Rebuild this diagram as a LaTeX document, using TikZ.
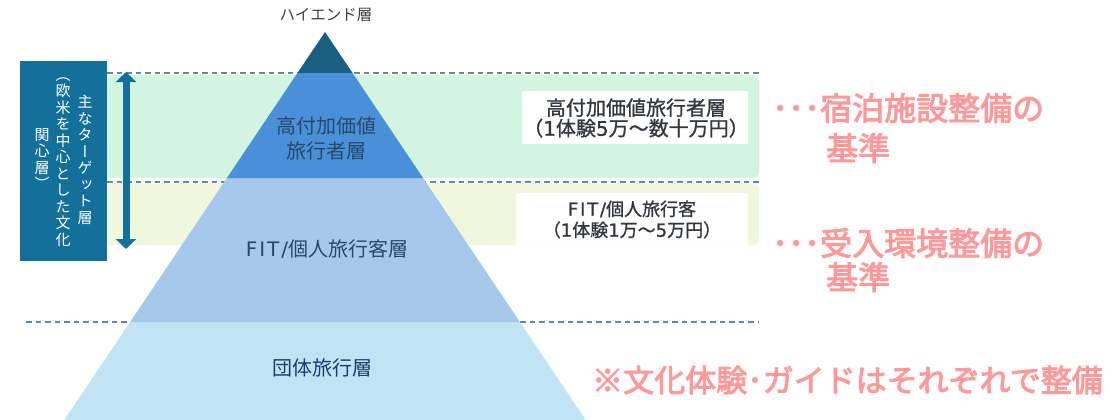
\documentclass[tikz,border=0pt]{standalone}
\usepackage{fontspec}
\setmainfont{Noto Sans CJK JP}
\newfontfamily\vjp[RawFeature=+vert]{Noto Sans CJK JP}
\newfontfamily\pinkf[FakeBold=3]{Noto Sans CJK JP}
\newfontfamily\boxf[FakeBold=1]{Noto Sans CJK JP}
\newfontfamily\latw[LetterSpace=10]{DejaVu Sans}
\newfontfamily\latwb[LetterSpace=10,FakeBold=1]{DejaVu Sans}
\newfontfamily\latb[FakeBold=1]{DejaVu Sans}
\usetikzlibrary{arrows.meta}
\definecolor{tierA}{HTML}{185F80}
\definecolor{tierB}{HTML}{4A90D8}
\definecolor{tierC}{HTML}{A6C9EB}
\definecolor{tierD}{HTML}{C1E4F5}
\definecolor{bandG}{HTML}{D3F4E1}
\definecolor{bandY}{HTML}{EFF7DC}
\definecolor{dashc}{HTML}{5A8AA5}
\definecolor{teal}{HTML}{12709A}
\definecolor{pinkc}{HTML}{FF9999}
\definecolor{pyrtext}{HTML}{284868}
\definecolor{boxtext}{HTML}{33373F}
\definecolor{navy}{HTML}{1E3A6E}
\tikzset{
  dashline/.style={draw=dashc, line width=1.6pt, dash pattern=on 5.5pt off 4pt},
  pyrlabel/.style={font=\fontsize{20}{25}\selectfont, text=pyrtext, align=center, inner sep=0pt},
  boxlabel/.style={text=boxtext, align=center, inner sep=0pt},
  pinklabel/.style={font=\pinkf\fontsize{32}{34}\selectfont, text=pinkc, inner sep=0pt, anchor=west},
  vcol/.style={font=\vjp\fontsize{15}{16.5}\selectfont, text=white, align=center, inner sep=0pt},
}
\begin{document}
\begin{tikzpicture}[x=1pt,y=-1pt]
\useasboundingbox (0,0) rectangle (1119,420);
% bands
\fill[bandG, rounded corners=5pt] (100,75) rectangle (759,178);
\fill[bandY, rounded corners=5pt] (100,184) rectangle (759,245);
% dashed separators
\draw[dashline] (107,73) -- (759,73);
\draw[dashline] (107,182) -- (759,182);
\draw[dashline] (26,322) -- (759,322);
% pyramid
\fill[tierD] (130.1,322) -- (519.9,322) -- (585.7,420) -- (64.3,420) -- cycle;
\fill[tierC] (226.9,178) -- (423.1,178) -- (519.9,322) -- (130.1,322) -- cycle;
\fill[tierB] (297.45,73) -- (352.55,73) -- (423.1,178) -- (226.9,178) -- cycle;
\fill[tierA] (325,32) -- (352.55,73) -- (297.45,73) -- cycle;
% pyramid labels
\node[font=\fontsize{15.5}{18}\selectfont, text=black!75, inner sep=0pt] (hi) at (326,15) {ハイエンド層};
\node[pyrlabel] (hv) at (326,138.5) {高付加価値\\旅行者層};
\node[pyrlabel] (fit) at (327,249) {{\latw FIT/}個人旅行客層};
\node[pyrlabel, text=navy] (grp) at (322,368) {団体旅行層};
% white boxes
\fill[white] (522,91) rectangle (748,144);
\node[boxlabel, font=\boxf\fontsize{20}{20.5}\selectfont] (hvbox) at (636,118) {高付加価値旅行者層\\（{\latb 1}体験{\latb 5}万～数十万円）};
\fill[white] (516,193) rectangle (748,245);
\node[boxlabel, font=\boxf\fontsize{18}{21}\selectfont] (fitbox) at (632,219.5) {{\latwb FIT/}個人旅行客\\（{\latb 1}体験{\latb 1}万～{\latb 5}万円）};
% pink notes
\node[pinklabel] (n1) at (772,108) {･･･宿泊施設整備の};
\node[pinklabel] (n1b) at (826,148) {基準};
\node[pinklabel] (n2) at (772,243) {･･･受入環境整備の};
\node[pinklabel] (n2b) at (826,277) {基準};
\node[pinklabel, font=\pinkf\fontsize{31}{34}\selectfont] (n3) at (592,380) {※文化体験･ガイドはそれぞれで整備};
% target box
\fill[teal] (20,61) rectangle (107,261);
\node[vcol] (c1) at (85,160) {主\\な\\タ\\ー\\ゲ\\ッ\\ト\\層};
\node[vcol] (c2) at (63,162) {（\\欧\\米\\を\\中\\心\\と\\し\\た\\文\\化};
\node[vcol] (c3) at (42,159) {関\\心\\層\\）};
% arrow
\coordinate (atop) at (126,72);
\coordinate (abot) at (126,249);
\draw[teal, line width=7pt, {Triangle[width=20pt,length=10pt]}-{Triangle[width=20pt,length=10pt]}] (atop) -- (abot);
\end{tikzpicture}
\end{document}
